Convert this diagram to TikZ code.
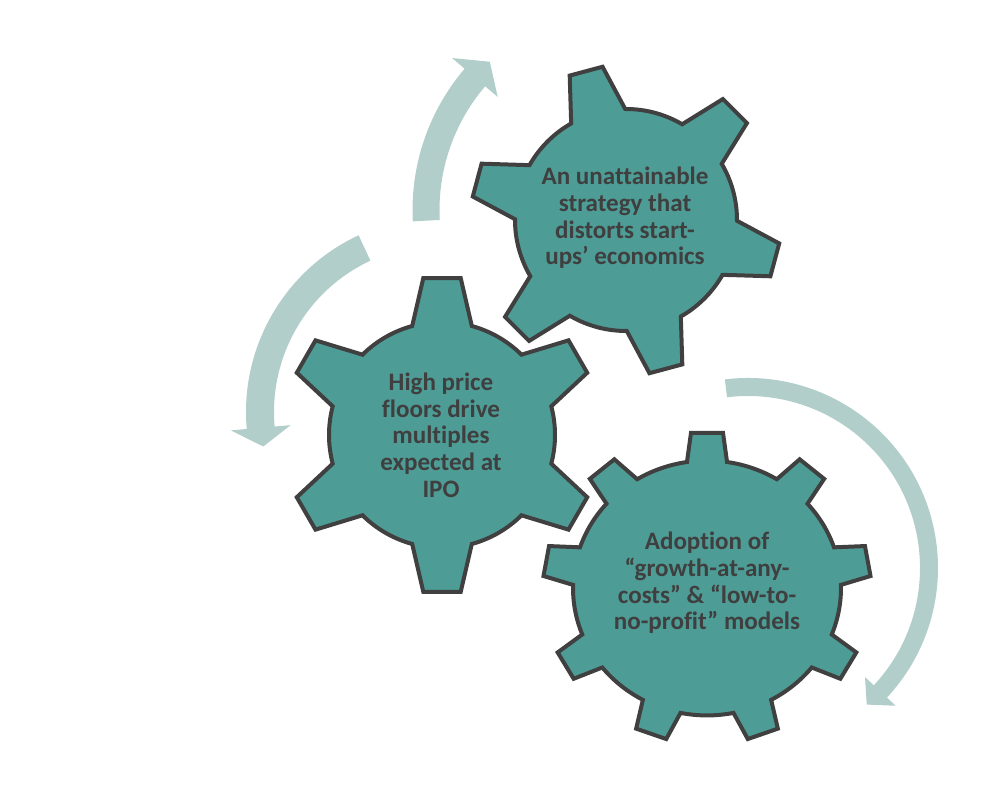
\documentclass[tikz,border=0pt]{standalone}
\usepackage{fontspec}
\setmainfont{Carlito}[Ligatures=NoCommon]

\definecolor{gearteal}{HTML}{4E9C96}
\definecolor{gearedge}{HTML}{404040}
\definecolor{turnmint}{HTML}{B2CECA}
\definecolor{labelgray}{HTML}{3F3F3F}

% #1 teeth, #2 inner radius, #3 outer radius, #4 half angle at tip, #5 half angle at base, #6 first tooth
\newcommand{\Gear}[6]{%
  \pgfmathsetmacro\gearstep{360/#1}
  \draw[gear] ({#6-#5}:#2)
    \foreach \k [evaluate=\k as \ang using #6+(\k-1)*\gearstep] in {1,...,#1}{
      -- ({\ang-#4}:#3) -- ({\ang+#4}:#3) -- ({\ang+#5}:#2)
      arc[start angle=\ang+#5, end angle=\ang+\gearstep-#5, radius=#2]
    } -- cycle;
}

% #1 centre, #2 radius, #3 start, #4 head base, #5 tip, #6 half shaft, #7 half head
\newcommand{\TurnArrow}[7]{%
  \fill[turnarrow, shift={#1}] ({#3}:{#2+#6}) arc[start angle=#3, end angle=#4, radius=#2+#6]
    -- ({#4}:{#2+#7}) -- ({#5}:{#2}) -- ({#4}:{#2-#7}) -- ({#4}:{#2-#6})
    arc[start angle=#4, end angle=#3, radius=#2-#6] -- cycle;
}

\begin{document}
\begin{tikzpicture}[x=0.75pt, y=0.75pt,
    gear/.style={fill=gearteal, draw=gearedge, line width=3pt, line join=miter},
    turnarrow/.style={fill=turnmint},
    gearlabel/.style={text=labelgray, align=center,
      font=\bfseries\fontsize{18.8}{20}\selectfont}]
    \useasboundingbox (0,0) rectangle (1003,806);

    % arrows round the gears
    \TurnArrow{(630,596)}{204}{183}{139.5}{133.4}{13.5}{30}
    \TurnArrow{(441,394)}{181}{115}{185}{191}{14}{30}
    \TurnArrow{(748,238)}{181}{97}{-43}{-49}{9}{21}

    % gears
    \begin{scope}[shift={(626,586)}]
        \Gear{6}{111}{155}{6.3}{14.6}{105}
    \end{scope}
    \begin{scope}[shift={(442,371)}]
        \Gear{6}{113}{158}{6.8}{15.3}{90}
    \end{scope}
    \begin{scope}[shift={(707,218)}, yscale=0.951]
        \Gear{9}{134}{164}{5.6}{8.6}{90}
    \end{scope}

    \node[gearlabel] (strategy) at (625,588) {An unattainable\\strategy that\\distorts start-\\ups’ economics};
    \node[gearlabel] (floors) at (441,371) {High price\\floors drive\\multiples\\expected at\\IPO};
    \node[gearlabel] (adoption) at (707,223) {Adoption of\\“growth-at-any-\\costs” \& “low-to-\\no-profit” models};
\end{tikzpicture}
\end{document}
